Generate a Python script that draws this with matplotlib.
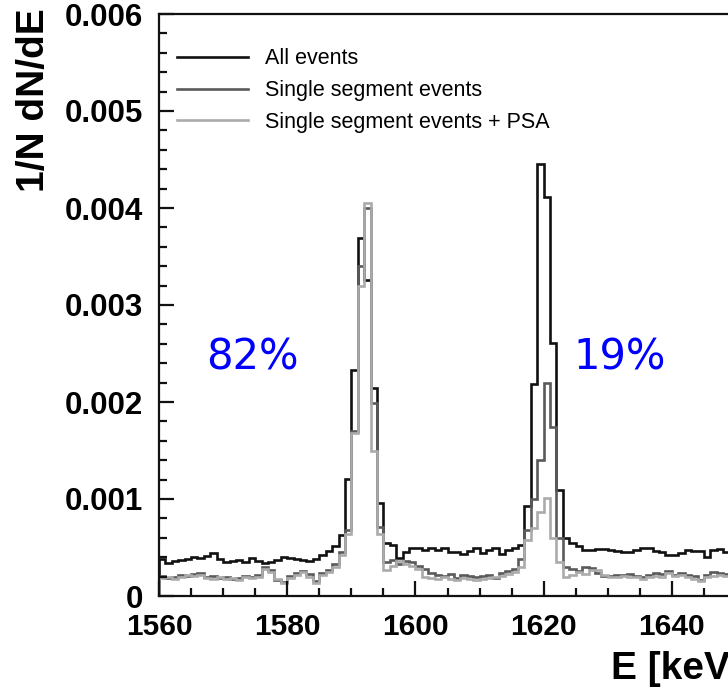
import numpy as np
import matplotlib
matplotlib.use("Agg")
import matplotlib.pyplot as plt
from matplotlib.ticker import MultipleLocator, FixedLocator, FixedFormatter
from matplotlib.font_manager import FontProperties

# ---- data (1 keV bins, 1560..1650 keV) ----
bin_edges_start = 1560
bin_width = 1

all_events = [
    0.00038, 0.00034, 0.00036, 0.00037, 0.00038, 0.00040, 0.00039, 0.00041, 0.00044, 0.00038,  # 1560-1569
    0.00035, 0.00036, 0.00037, 0.00035, 0.00039, 0.00036, 0.00034, 0.00035, 0.00037, 0.00040,  # 1570-1579
    0.00039, 0.00038, 0.00037, 0.00036, 0.00038, 0.00042, 0.00046, 0.00052, 0.00063, 0.00121,  # 1580-1589
    0.00233, 0.00369, 0.00326, 0.00214, 0.00096, 0.00055, 0.00053, 0.00039, 0.00045, 0.00050,  # 1590-1599
    0.00050, 0.00047, 0.00050, 0.00047, 0.00050, 0.00045, 0.00045, 0.00043, 0.00046, 0.00049,  # 1600-1609
    0.00044, 0.00047, 0.00050, 0.00043, 0.00047, 0.00050, 0.00053, 0.00093, 0.00219, 0.00445,  # 1610-1619
    0.00411, 0.00261, 0.00109, 0.00060, 0.00055, 0.00052, 0.00047, 0.00047, 0.00048, 0.00048,  # 1620-1629
    0.00047, 0.00046, 0.00045, 0.00045, 0.00047, 0.00050, 0.00050, 0.00046, 0.00045, 0.00042,  # 1630-1639
    0.00042, 0.00044, 0.00047, 0.00046, 0.00046, 0.00040, 0.00047, 0.00048, 0.00045, 0.00045,  # 1640-1649
]

single_segment = [
    0.00021, 0.00019, 0.00020, 0.00022, 0.00021, 0.00023, 0.00024, 0.00020, 0.00021, 0.00019,
    0.00020, 0.00018, 0.00019, 0.00021, 0.00020, 0.00022, 0.00030, 0.00027, 0.00016, 0.00014,
    0.00021, 0.00024, 0.00026, 0.00023, 0.00015, 0.00024, 0.00027, 0.00033, 0.00045, 0.00068,
    0.00170, 0.00340, 0.00400, 0.00199, 0.00071, 0.00035, 0.00037, 0.00033, 0.00036, 0.00035,
    0.00031, 0.00028, 0.00024, 0.00022, 0.00021, 0.00023, 0.00019, 0.00022, 0.00021, 0.00020,
    0.00021, 0.00022, 0.00019, 0.00024, 0.00026, 0.00028, 0.00038, 0.00068, 0.00100, 0.00140,
    0.00220, 0.00174, 0.00060, 0.00030, 0.00028, 0.00026, 0.00030, 0.00029, 0.00024, 0.00021,
    0.00021, 0.00022, 0.00022, 0.00023, 0.00021, 0.00020, 0.00022, 0.00024, 0.00023, 0.00026,
    0.00022, 0.00024, 0.00022, 0.00021, 0.00016, 0.00022, 0.00025, 0.00024, 0.00023, 0.00023,
]

single_segment_psa = [
    0.00019, 0.00020, 0.00018, 0.00020, 0.00022, 0.00021, 0.00022, 0.00019, 0.00018, 0.00020,
    0.00018, 0.00019, 0.00017, 0.00020, 0.00019, 0.00020, 0.00028, 0.00025, 0.00018, 0.00013,
    0.00019, 0.00022, 0.00025, 0.00020, 0.00013, 0.00022, 0.00025, 0.00030, 0.00042, 0.00064,
    0.00168, 0.00320, 0.00405, 0.00150, 0.00064, 0.00027, 0.00031, 0.00036, 0.00033, 0.00031,
    0.00028, 0.00020, 0.00019, 0.00018, 0.00020, 0.00018, 0.00016, 0.00019, 0.00018, 0.00017,
    0.00018, 0.00019, 0.00020, 0.00021, 0.00023, 0.00025, 0.00030, 0.00058, 0.00070, 0.00087,
    0.00101, 0.00060, 0.00035, 0.00020, 0.00022, 0.00025, 0.00023, 0.00027, 0.00027, 0.00022,
    0.00020, 0.00020, 0.00021, 0.00020, 0.00020, 0.00018, 0.00020, 0.00021, 0.00020, 0.00024,
    0.00021, 0.00022, 0.00020, 0.00018, 0.00015, 0.00020, 0.00021, 0.00022, 0.00021, 0.00020,
]

series_labels = ["All events", "Single segment events", "Single segment events + PSA"]
series_colors = ["#111111", "#5a5a5a", "#ababab"]

x_ticks = [1560, 1580, 1600, 1620, 1640]
y_ticks = [0, 0.001, 0.002, 0.003, 0.004, 0.005, 0.006]
y_tick_labels = ["0", "0.001", "0.002", "0.003", "0.004", "0.005", "0.006"]

annotations = [("82%", 1567.3, 0.00234), ("19%", 1624.7, 0.00234)]

# ---- figure ----
W, H = 728, 687
fig = plt.figure(figsize=(W / 100, H / 100), dpi=100)
left_px, right_px, bottom_px, top_px = 159, 736, 596, 14
ax = fig.add_axes([left_px / W, (H - bottom_px) / H,
                   (right_px - left_px) / W, (bottom_px - top_px) / H])

n = len(all_events)
edges = bin_edges_start + bin_width * np.arange(n + 1)
for vals, lab, col in zip([all_events, single_segment, single_segment_psa],
                          series_labels, series_colors):
    ax.stairs(vals, edges, color=col, lw=1.9, label=lab)

ax.set_xlim(1560, 1650)
ax.set_ylim(0, 0.006)

ax.xaxis.set_major_locator(FixedLocator(x_ticks))
ax.xaxis.set_minor_locator(MultipleLocator(5))
ax.yaxis.set_major_locator(FixedLocator(y_ticks))
ax.yaxis.set_major_formatter(FixedFormatter(y_tick_labels))
ax.yaxis.set_minor_locator(MultipleLocator(0.0002))
ax.tick_params(which="both", direction="in", top=False, right=False, color="#111111")
ax.tick_params(which="major", length=11, width=1.6)
ax.tick_params(which="minor", length=6, width=1.6)
ax.tick_params(axis="y", which="major", pad=11.5)
ax.tick_params(axis="x", which="major", pad=12)
for lbl in ax.get_xticklabels():
    lbl.set_fontproperties(FontProperties(family="Liberation Sans", weight="bold", size=21.5))
for lbl in ax.get_yticklabels():
    lbl.set_fontproperties(FontProperties(family="Liberation Sans", weight="bold", size=22.5))
for sp in ax.spines.values():
    sp.set_linewidth(1.6)
    sp.set_color("#111111")

leg = ax.legend(loc="upper left", bbox_to_anchor=(0.031, 0.941), frameon=False,
                prop=dict(family="Liberation Sans", size=15.5),
                handlelength=3.3, handletextpad=0.8, labelspacing=0.5,
                borderaxespad=0.0, borderpad=0.0)
for h in leg.get_lines():
    h.set_linewidth(1.9)

for txt, xe, ye in annotations:
    ax.text(xe, ye, txt, color="#0000ff", fontsize=30, family="DejaVu Sans",
            ha="left", va="baseline")

fig.text(34 / W, (H - 8) / H, "1/N dN/dE", rotation=90, ha="center", va="top",
         family="Liberation Sans", weight="bold", fontsize=28)
fig.text(611 / W, (H - 679) / H, "E [keV]", ha="left", va="baseline",
         family="Liberation Sans", weight="bold", fontsize=28)

fig.savefig("out.png", dpi=100)
